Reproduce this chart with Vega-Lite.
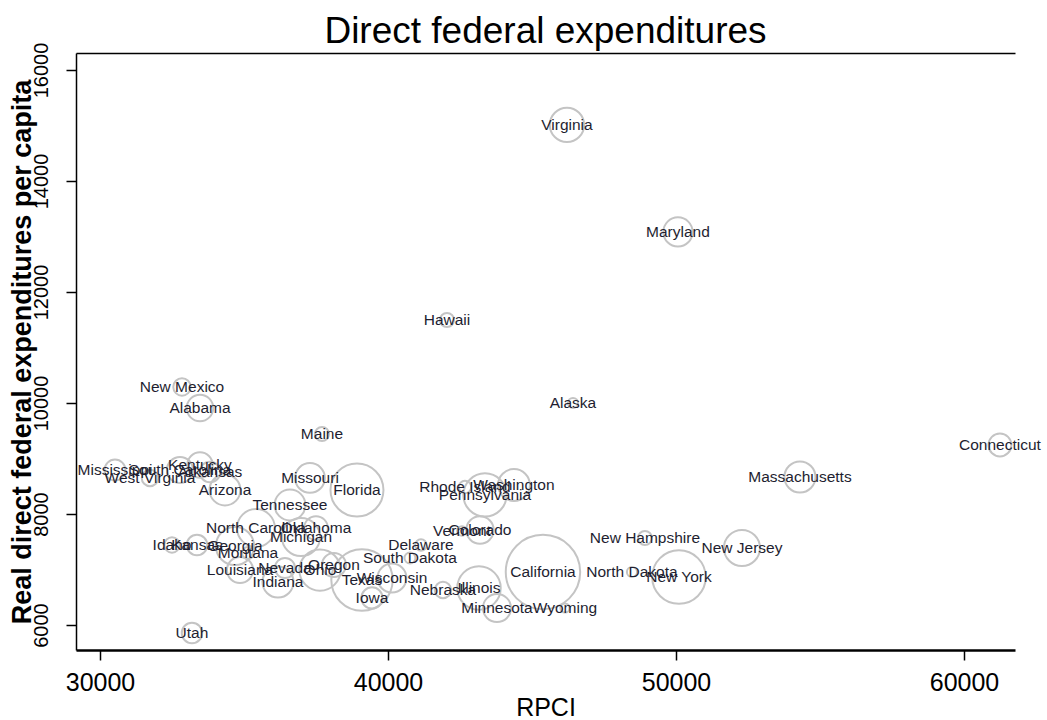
{
  "$schema": "https://vega.github.io/schema/vega-lite/v6.json",
  "width": 939,
  "height": 597,
  "autosize": {"type": "none"},
  "padding": {"left": 76, "top": 53, "right": 32, "bottom": 70},
  "background": "white",
  "config": {
    "view": {"stroke": null},
    "font": "Liberation Sans"
  },
  "title": {
    "text": "Direct federal expenditures",
    "fontSize": 37,
    "fontWeight": "normal",
    "font": "Liberation Sans",
    "color": "black",
    "anchor": "middle",
    "offset": -9
  },
  "data": {
    "values": [
      {"state": "Virginia", "RPCI": 46214, "exp": 15010, "pop": 8.0},
      {"state": "Maryland", "RPCI": 50068, "exp": 13082, "pop": 5.8},
      {"state": "Hawaii", "RPCI": 42048, "exp": 11496, "pop": 1.36},
      {"state": "Alaska", "RPCI": 46423, "exp": 10000, "pop": 0.71},
      {"state": "New Mexico", "RPCI": 32847, "exp": 10289, "pop": 2.06},
      {"state": "Alabama", "RPCI": 33472, "exp": 9910, "pop": 4.78},
      {"state": "Maine", "RPCI": 37708, "exp": 9442, "pop": 1.33},
      {"state": "Connecticut", "RPCI": 61248, "exp": 9244, "pop": 3.57},
      {"state": "Massachusetts", "RPCI": 54304, "exp": 8667, "pop": 6.55},
      {"state": "Mississippi", "RPCI": 30521, "exp": 8793, "pop": 2.97},
      {"state": "South Carolina", "RPCI": 32778, "exp": 8793, "pop": 4.63},
      {"state": "Kentucky", "RPCI": 33472, "exp": 8883, "pop": 4.37},
      {"state": "Arkansas", "RPCI": 33819, "exp": 8757, "pop": 2.92},
      {"state": "West Virginia", "RPCI": 31736, "exp": 8649, "pop": 1.85},
      {"state": "Arizona", "RPCI": 34340, "exp": 8433, "pop": 6.48},
      {"state": "Missouri", "RPCI": 37291, "exp": 8649, "pop": 6.02},
      {"state": "Florida", "RPCI": 38923, "exp": 8433, "pop": 19.1},
      {"state": "Tennessee", "RPCI": 36597, "exp": 8162, "pop": 6.45},
      {"state": "Washington", "RPCI": 44374, "exp": 8523, "pop": 6.9},
      {"state": "Pennsylvania", "RPCI": 43367, "exp": 8343, "pop": 12.7},
      {"state": "Rhode Island", "RPCI": 42673, "exp": 8487, "pop": 1.05},
      {"state": "North Carolina", "RPCI": 35416, "exp": 7748, "pop": 9.75},
      {"state": "Oklahoma", "RPCI": 37500, "exp": 7748, "pop": 3.8},
      {"state": "Michigan", "RPCI": 36979, "exp": 7586, "pop": 9.88},
      {"state": "Idaho", "RPCI": 32500, "exp": 7442, "pop": 1.6},
      {"state": "Kansas", "RPCI": 33368, "exp": 7442, "pop": 2.89},
      {"state": "Georgia", "RPCI": 34687, "exp": 7424, "pop": 9.9},
      {"state": "Montana", "RPCI": 35139, "exp": 7297, "pop": 1.0},
      {"state": "Louisiana", "RPCI": 34861, "exp": 6991, "pop": 4.6},
      {"state": "Nevada", "RPCI": 36423, "exp": 7027, "pop": 2.76},
      {"state": "Ohio", "RPCI": 37638, "exp": 6991, "pop": 11.57},
      {"state": "Oregon", "RPCI": 38124, "exp": 7081, "pop": 3.9},
      {"state": "Indiana", "RPCI": 36180, "exp": 6775, "pop": 6.54},
      {"state": "Texas", "RPCI": 39097, "exp": 6811, "pop": 25.6},
      {"state": "Wisconsin", "RPCI": 40138, "exp": 6847, "pop": 5.7},
      {"state": "Iowa", "RPCI": 39444, "exp": 6487, "pop": 3.07},
      {"state": "South Dakota", "RPCI": 40763, "exp": 7207, "pop": 0.82},
      {"state": "Delaware", "RPCI": 41145, "exp": 7442, "pop": 0.9},
      {"state": "Vermont", "RPCI": 42569, "exp": 7694, "pop": 0.63},
      {"state": "Colorado", "RPCI": 43194, "exp": 7712, "pop": 5.1},
      {"state": "California", "RPCI": 45381, "exp": 6955, "pop": 37.7},
      {"state": "Illinois", "RPCI": 43159, "exp": 6667, "pop": 12.86},
      {"state": "Nebraska", "RPCI": 41909, "exp": 6631, "pop": 1.84},
      {"state": "Minnesota", "RPCI": 43784, "exp": 6306, "pop": 5.35},
      {"state": "Wyoming", "RPCI": 46145, "exp": 6306, "pop": 0.57},
      {"state": "New Hampshire", "RPCI": 48922, "exp": 7568, "pop": 1.32},
      {"state": "New Jersey", "RPCI": 52290, "exp": 7388, "pop": 8.84},
      {"state": "North Dakota", "RPCI": 48471, "exp": 6955, "pop": 0.7},
      {"state": "New York", "RPCI": 50103, "exp": 6865, "pop": 19.5},
      {"state": "Utah", "RPCI": 33194, "exp": 5856, "pop": 2.85}
    ]
  },
  "resolve": {"axis": {"x": "independent", "y": "independent"}},
  "layer": [
    {
      "mark": {"type": "point", "shape": "circle", "filled": false, "stroke": "#c4c4c4", "strokeWidth": 2, "opacity": 1},
      "encoding": {
        "x": {
          "field": "RPCI", "type": "quantitative",
          "scale": {"domain": [29167, 61771], "nice": false, "zero": false},
          "axis": {
            "orient": "bottom",
            "values": [30000, 40000, 50000, 60000],
            "format": "d",
            "grid": false,
            "domainColor": "black", "domainWidth": 2.5,
            "tickColor": "black", "tickSize": 10, "tickWidth": 1.5,
            "labelFontSize": 25, "labelColor": "black", "labelFont": "Liberation Sans", "labelPadding": 10,
            "title": "RPCI", "titleFontSize": 25, "titleFontWeight": "normal", "titleColor": "black", "titleFont": "Liberation Sans", "titlePadding": 0
          }
        },
        "y": {
          "field": "exp", "type": "quantitative",
          "scale": {"domain": [5550, 16306], "nice": false, "zero": false},
          "axis": {
            "orient": "left",
            "values": [6000, 8000, 10000, 12000, 14000, 16000],
            "format": "d",
            "grid": false,
            "domainColor": "black", "domainWidth": 1.5,
            "tickColor": "black", "tickSize": 10, "tickWidth": 1.5,
            "labelAngle": -90, "labelAlign": "center", "labelBaseline": "bottom",
            "labelFontSize": 20, "labelColor": "black", "labelFont": "Liberation Sans", "labelPadding": 15,
            "title": "Real direct federal expenditures per capita", "titleFontSize": 27, "titleFontWeight": "bold", "titleColor": "black", "titleFont": "Liberation Sans", "titlePadding": -5
          }
        },
        "size": {"field": "pop", "type": "quantitative", "scale": {"domain": [0, 37.7], "range": [0, 5542]}, "legend": null}
      }
    },
    {
      "mark": {"type": "text", "fontSize": 15.5, "font": "Liberation Sans", "color": "#1e1e30", "align": "center", "baseline": "middle"},
      "encoding": {
        "x": {
          "field": "RPCI", "type": "quantitative",
          "axis": {"orient": "top", "ticks": false, "labels": false, "title": null, "grid": false, "domainColor": "black", "domainWidth": 1.5}
        },
        "y": {
          "field": "exp", "type": "quantitative",
          "axis": null
        },
        "text": {"field": "state"}
      }
    }
  ]
}
